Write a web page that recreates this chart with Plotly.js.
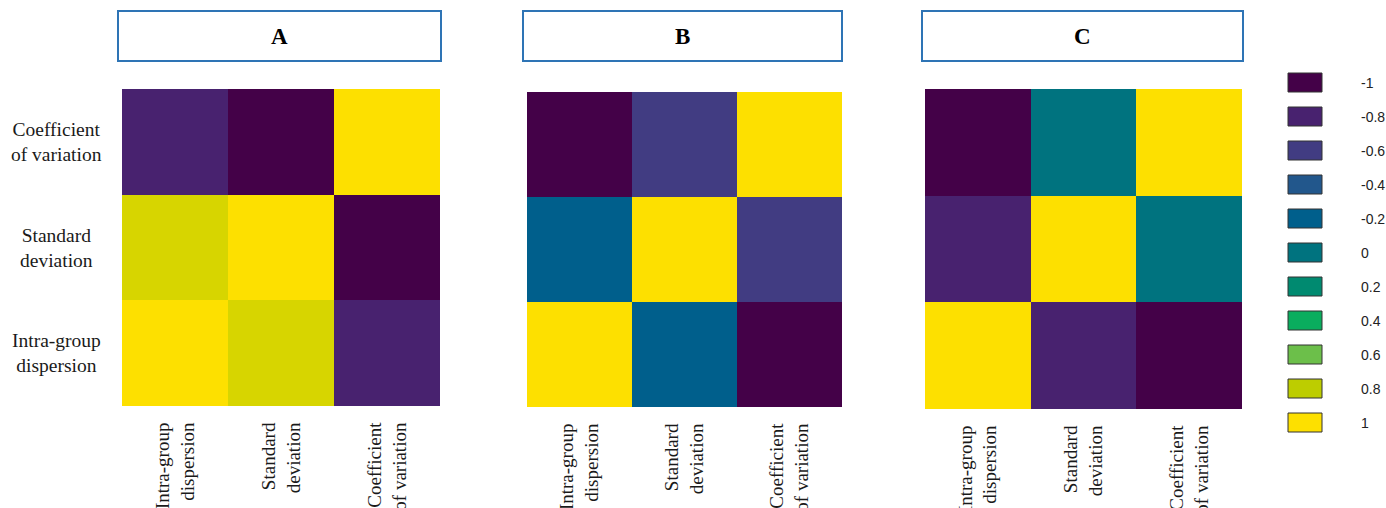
<!DOCTYPE html>
<html>
<head>
<meta charset="utf-8">
<script src="https://cdn.plot.ly/plotly-3.0.1.min.js"></script>
<style>html,body{margin:0;padding:0;background:#fff;}#chart{width:1386px;height:508px;}</style>
</head>
<body>
<div id="chart"></div>
<script>
// ---- data ----
const categories = ["Intra-group<br>dispersion", "Standard<br>deviation", "Coefficient<br>of variation"];
const panelNames = ["A", "B", "C"];
// rows: Intra-group dispersion, Standard deviation, Coefficient of variation (bottom to top)
const zA = [
  [1.0, 0.88, -0.8],
  [0.88, 1.0, -1.0],
  [-0.8, -1.0, 1.0]
];
const zB = [
  [1.0, -0.2, -1.0],
  [-0.2, 1.0, -0.6],
  [-1.0, -0.6, 1.0]
];
const zC = [
  [1.0, -0.8, -1.0],
  [-0.8, 1.0, 0.0],
  [-1.0, 0.0, 1.0]
];
const legendValues = [-1, -0.8, -0.6, -0.4, -0.2, 0, 0.2, 0.4, 0.6, 0.8, 1];
const legendLabels = ["-1", "-0.8", "-0.6", "-0.4", "-0.2", "0", "0.2", "0.4", "0.6", "0.8", "1"];
const legendColors = ["#440148", "#48226f", "#413c82", "#22578c", "#005f8c", "#00737f", "#008a70", "#0aad5e", "#6cbf4a", "#bdcd00", "#fde000"];

// ---- layout ----
const W = 1386, H = 508;
const colorscale = legendValues.map((v, i) => [(v + 1) / 2, legendColors[i]]);
const panels = [
  {z: zA, x0: 122, x1: 440, y0: 89, y1: 406, bx0: 118, bx1: 441},
  {z: zB, x0: 527, x1: 842, y0: 92, y1: 407, bx0: 523, bx1: 842},
  {z: zC, x0: 925, x1: 1242, y0: 89, y1: 409, bx0: 922, bx1: 1243}
];
const serif = "Liberation Serif, Times New Roman, serif";
const traces = [];
const layout = {
  width: W, height: H,
  margin: {l: 0, r: 0, t: 0, b: 0},
  paper_bgcolor: "#ffffff", plot_bgcolor: "#ffffff",
  showlegend: false,
  shapes: [], annotations: []
};
panels.forEach((p, i) => {
  const n = i === 0 ? "" : String(i + 1);
  traces.push({
    type: "heatmap",
    x: categories, y: categories, z: p.z,
    zmin: -1, zmax: 1, colorscale: colorscale, showscale: false,
    xaxis: "x" + n, yaxis: "y" + n, hoverinfo: "skip"
  });
  layout["xaxis" + n] = {
    domain: [p.x0 / W, p.x1 / W], anchor: "y" + n,
    tickangle: -90, ticks: "outside", ticklen: 8, tickcolor: "rgba(0,0,0,0)",
    tickfont: {family: serif, size: 19, color: "#1a1a1a"},
    showgrid: false, zeroline: false, showline: false, fixedrange: true
  };
  layout["yaxis" + n] = {
    domain: [1 - p.y1 / H, 1 - p.y0 / H], anchor: "x" + n,
    showticklabels: false, ticks: "",
    showgrid: false, zeroline: false, showline: false, fixedrange: true
  };
  layout.shapes.push({
    type: "rect", xref: "paper", yref: "paper",
    x0: p.bx0 / W, x1: p.bx1 / W, y0: 1 - 61 / H, y1: 1 - 11 / H,
    line: {color: "#2e74b5", width: 2}, fillcolor: "rgba(0,0,0,0)"
  });
  layout.annotations.push({
    xref: "paper", yref: "paper", x: (p.bx0 + p.bx1) / 2 / W, y: 1 - 37 / H,
    text: "<b>" + panelNames[i] + "</b>", showarrow: false,
    font: {family: serif, size: 23, color: "#000"}, xanchor: "center", yanchor: "middle"
  });
});
// y labels (panel A only), centered
categories.forEach(c => {
  layout.annotations.push({
    xref: "paper", yref: "y", x: 56 / W, y: c, text: c, showarrow: false,
    align: "center", xanchor: "center", yanchor: "middle",
    font: {family: serif, size: 19.5, color: "#1a1a1a"}
  });
});
// discrete legend
legendValues.forEach((v, i) => {
  const top = 73 + i * 34;
  layout.shapes.push({
    type: "rect", xref: "paper", yref: "paper",
    x0: 1288 / W, x1: 1322 / W, y0: 1 - (top + 19) / H, y1: 1 - top / H,
    line: {color: "#333", width: 1}, fillcolor: legendColors[i]
  });
  layout.annotations.push({
    xref: "paper", yref: "paper", x: 1359 / W, y: 1 - (top + 10) / H,
    text: legendLabels[i], showarrow: false, xanchor: "left", yanchor: "middle",
    font: {family: "Liberation Sans, Arial, sans-serif", size: 14, color: "#222"}
  });
});
Plotly.newPlot("chart", traces, layout, {displayModeBar: false, staticPlot: true});
</script>
</body>
</html>
